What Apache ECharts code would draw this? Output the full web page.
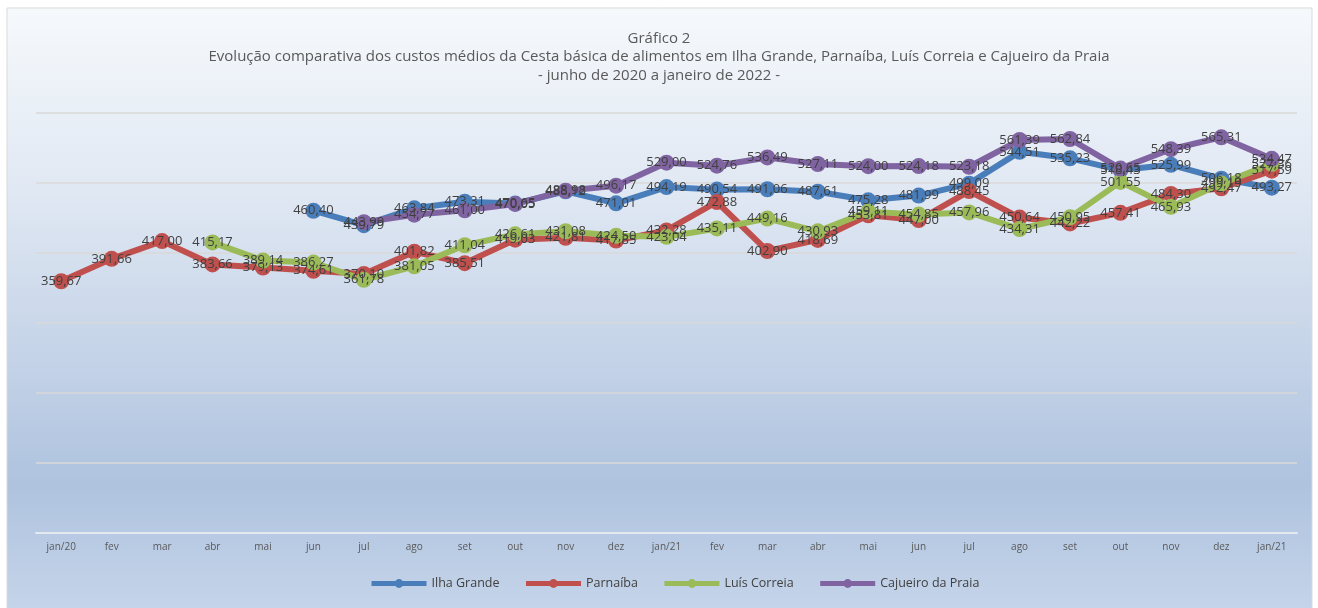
<!DOCTYPE html>
<html>
<head>
<meta charset="utf-8">
<script src="https://cdn.jsdelivr.net/npm/echarts@6/dist/echarts.min.js"></script>
<style>
  html, body { margin: 0; padding: 0; background: #fff; }
  #chart { width: 1318px; height: 608px; }
</style>
</head>
<body>
<div id="chart"></div>
<script>
const months = ['jan/20', 'fev', 'mar', 'abr', 'mai', 'jun', 'jul', 'ago', 'set', 'out', 'nov', 'dez',
  'jan/21', 'fev', 'mar', 'abr', 'mai', 'jun', 'jul', 'ago', 'set', 'out', 'nov', 'dez', 'jan/21'];

const ilhaGrande = [null, null, null, null, null, 460.40, 439.79, 463.84, 473.31, 470.65, 488.12, 471.01,
  494.19, 490.54, 491.06, 487.61, 475.28, 481.99, 499.09, 544.51, 535.23, 518.43, 525.99, 506.18, 493.27];
const parnaiba = [359.67, 391.66, 417.00, 383.66, 379.13, 374.61, 370.10, 401.82, 385.51, 419.03, 421.81, 417.85,
  432.28, 472.88, 402.90, 418.69, 453.81, 447.00, 488.45, 450.64, 442.22, 457.41, 484.30, 492.47, 517.59];
const luisCorreia = [null, null, null, 415.17, 389.14, 386.27, 361.78, 381.05, 411.04, 426.61, 431.08, 424.50,
  423.04, 435.11, 449.16, 430.93, 459.11, 454.85, 457.96, 434.31, 450.95, 501.55, 465.93, 499.19, 527.36];
const cajueiro = [null, null, null, null, null, null, 443.99, 454.77, 461.00, 470.05, 488.98, 496.17,
  529.00, 524.76, 536.49, 527.11, 524.00, 524.18, 523.18, 561.39, 562.84, 520.65, 548.39, 565.31, 534.47];

const seriesDefs = [
  { name: 'Ilha Grande', data: ilhaGrande, color: '#4a7ebb' },
  { name: 'Parnaíba', data: parnaiba, color: '#c0504d' },
  { name: 'Luís Correia', data: luisCorreia, color: '#9bbb59' },
  { name: 'Cajueiro da Praia', data: cajueiro, color: '#8064a2' }
];

const fmt = v => v.toFixed(2).replace('.', ',');

const chart = echarts.init(document.getElementById('chart'));

chart.setOption({
  backgroundColor: '#ffffff',
  animation: false,
  textStyle: { fontFamily: 'Open Sans' },
  graphic: [{
    type: 'rect',
    z: -10,
    shape: { x: 7, y: 8, width: 1305, height: 610 },
    style: {
      stroke: '#d9d9d9',
      lineWidth: 1,
      fill: {
        type: 'linear', x: 0, y: 0, x2: 0, y2: 1,
        colorStops: [
          { offset: 0, color: '#f6f9fc' },
          { offset: 0.3, color: '#e0e8f3' },
          { offset: 0.78, color: '#afc3df' },
          { offset: 1, color: '#c6d5ea' }
        ]
      }
    }
  }],
  title: {
    text: 'Gráfico 2\nEvolução comparativa dos custos médios da Cesta básica de alimentos em Ilha Grande, Parnaíba, Luís Correia e Cajueiro da Praia\n- junho de 2020 a janeiro de 2022 -',
    left: 'center',
    top: 24,
    textStyle: { fontSize: 15, fontWeight: 'normal', color: '#595959', lineHeight: 18.5, fontFamily: 'Open Sans' }
  },
  legend: {
    top: 572,
    left: 364,
    itemWidth: 55,
    itemHeight: 11,
    itemGap: 24,
    lineStyle: { width: 5 },
    textStyle: { fontSize: 12.5, color: '#404040' },
    data: seriesDefs.map(s => s.name)
  },
  grid: { left: 36, right: 21, top: 113, bottom: 75 },
  xAxis: {
    type: 'category',
    data: months,
    boundaryGap: true,
    axisLine: { lineStyle: { color: '#e4e9f0', width: 2 } },
    axisTick: { show: false },
    axisLabel: { fontSize: 10, color: '#595959', margin: 9, interval: 0 }
  },
  yAxis: {
    type: 'value',
    min: 0,
    max: 600,
    interval: 100,
    axisLabel: { show: false },
    axisLine: { show: false },
    axisTick: { show: false },
    splitLine: { lineStyle: { color: '#d9d9d9', width: 1.5 } }
  },
  series: seriesDefs.map(s => ({
    name: s.name,
    type: 'line',
    data: s.data,
    color: s.color,
    symbol: 'circle',
    symbolSize: 16,
    lineStyle: { width: 6, color: s.color },
    itemStyle: { color: s.color },
    label: {
      show: true,
      position: 'inside',
      fontSize: 13,
      color: '#404040',
      formatter: p => fmt(p.value)
    },
    labelLayout: { hideOverlap: false }
  }))
});
</script>
</body>
</html>
